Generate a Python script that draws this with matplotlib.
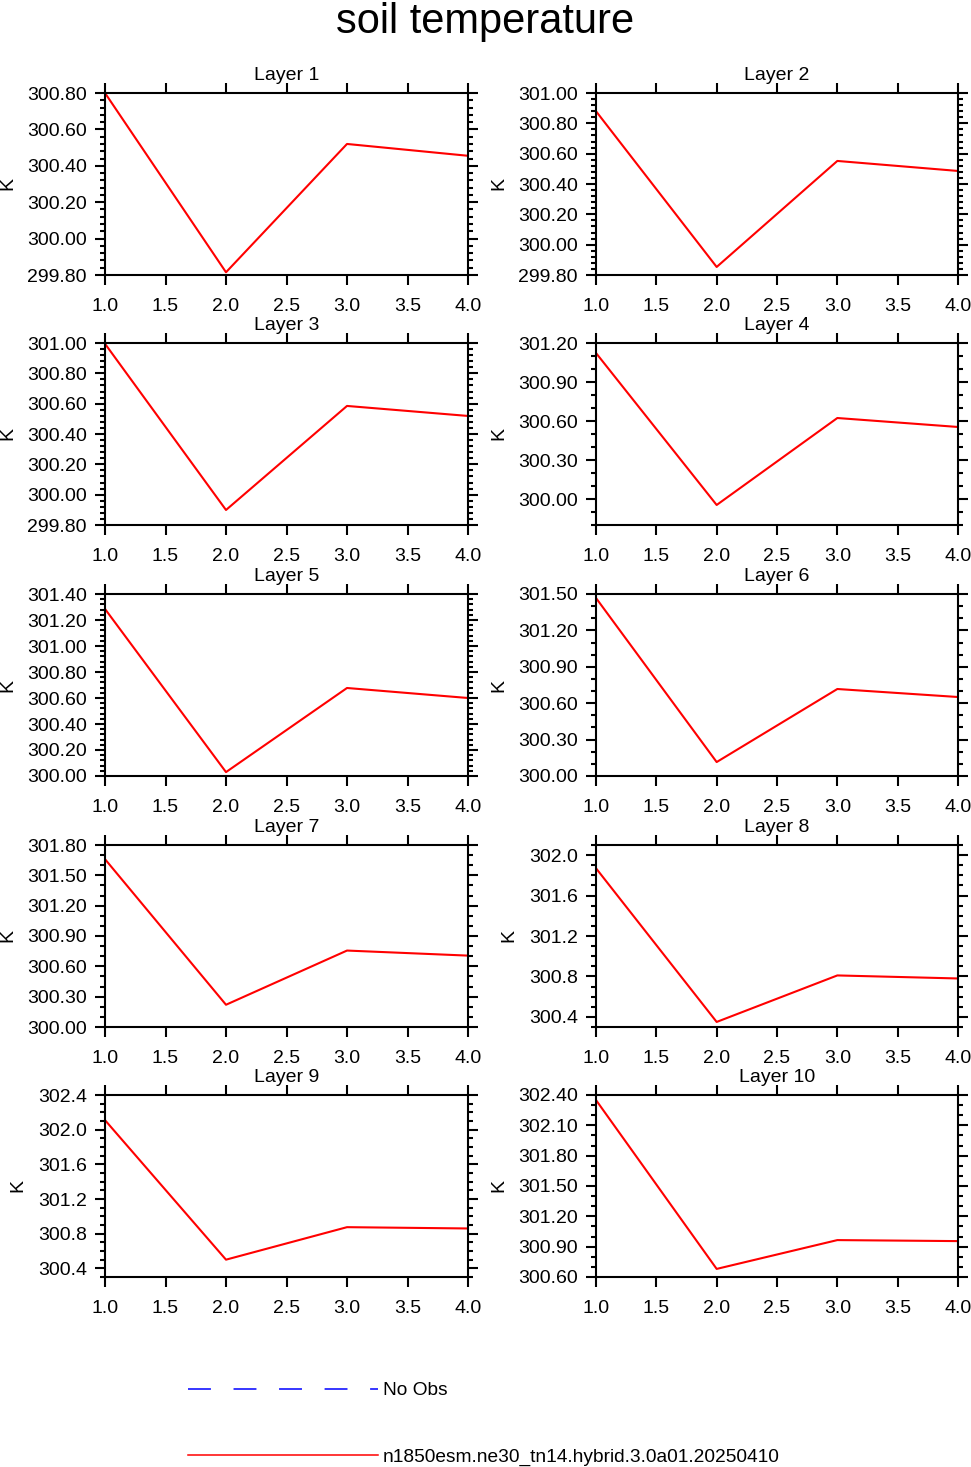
import numpy as np
import matplotlib
matplotlib.use("Agg")
import matplotlib.pyplot as plt
from matplotlib.ticker import MultipleLocator, FormatStrFormatter
from matplotlib.lines import Line2D

plt.rcParams['font.family'] = ['Liberation Sans', 'DejaVu Sans']

# --- data ---
bulan = [1, 2, 3, 4]
layer_names = ["Layer %d" % i for i in range(1, 11)]
suhu = [
    [300.80, 299.815, 300.52, 300.455],
    [300.88, 299.853, 300.552, 300.486],
    [300.995, 299.899, 300.585, 300.519],
    [301.123, 299.954, 300.623, 300.554],
    [301.285, 300.03, 300.677, 300.60],
    [301.467, 300.115, 300.717, 300.651],
    [301.66, 300.22, 300.756, 300.706],
    [301.87, 300.35, 300.81, 300.78],
    [302.11, 300.50, 300.875, 300.86],
    [302.35, 300.68, 300.965, 300.955],
]
batas_y = [(299.8, 300.8), (299.8, 301.0), (299.8, 301.0), (299.8, 301.2), (300.0, 301.4),
           (300.0, 301.5), (300.0, 301.8), (300.3, 302.1), (300.3, 302.4), (300.6, 302.4)]
langkah_mayor = [0.2, 0.2, 0.2, 0.3, 0.2, 0.3, 0.3, 0.4, 0.4, 0.3]
langkah_minor = [0.04, 0.04, 0.04, 0.1, 0.04, 0.1, 0.1, 0.1, 0.1, 0.1]
format_y = ['%.2f'] * 7 + ['%.1f', '%.1f', '%.2f']
label_model = "n1850esm.ne30_tn14.hybrid.3.0a01.20250410"
label_obs = "No Obs"

# --- figure ---
W, H = 971, 1467
fig = plt.figure(figsize=(W / 100, H / 100), dpi=100)
fig.text(0.5, 1 - 33 / H, "soil temperature", ha='center', va='baseline', fontsize=30)

kiri = [105, 596]
lebar = [363, 362]
atas = [93, 343, 594, 845, 1095]
tinggi = 182

for i in range(10):
    r, c = divmod(i, 2)
    ax = fig.add_axes([kiri[c] / W, 1 - (atas[r] + tinggi) / H, lebar[c] / W, tinggi / H])
    ax.plot(bulan, suhu[i], color='red', lw=1.5)
    ax.set_xlim(1, 4)
    ax.set_ylim(*batas_y[i])
    ax.xaxis.set_major_locator(MultipleLocator(0.5))
    ax.xaxis.set_major_formatter(FormatStrFormatter('%.1f'))
    y0 = np.ceil(batas_y[i][0] / langkah_mayor[i] - 1e-6) * langkah_mayor[i]
    ax.set_yticks(np.arange(y0, batas_y[i][1] + 1e-6, langkah_mayor[i]))
    ax.yaxis.set_minor_locator(MultipleLocator(langkah_minor[i]))
    ax.yaxis.set_major_formatter(FormatStrFormatter(format_y[i]))
    ax.tick_params(which='both', direction='out', top=True, right=True, width=1.5)
    ax.tick_params(which='major', length=7, labelsize=14)
    ax.tick_params(which='minor', length=3.5)
    ax.tick_params(axis='x', which='minor', bottom=False, top=False)
    ax.tick_params(axis='x', pad=9.5)
    ax.tick_params(axis='y', pad=6)
    for sp in ax.spines.values():
        sp.set_linewidth(1.5)
    ax.set_ylabel("K", fontsize=14, labelpad=8)
    ax.text(0.5, 1 + 13 / tinggi, layer_names[i], transform=ax.transAxes,
            ha='center', va='baseline', fontsize=14)

# --- legend ---
h_obs = Line2D([], [], color='blue', lw=1.1, dashes=(15, 14.8))
h_mod = Line2D([], [], color='red', lw=1.1)
fig.legend([h_obs, h_mod], [label_obs, label_model], loc='upper left',
           bbox_to_anchor=(188 / W, 1 - 1382 / H), frameon=False, fontsize=13.75,
           handlelength=9.95, handletextpad=0.25, labelspacing=2.55, borderaxespad=0,
           borderpad=0)

fig.savefig("out.png", dpi=100)
